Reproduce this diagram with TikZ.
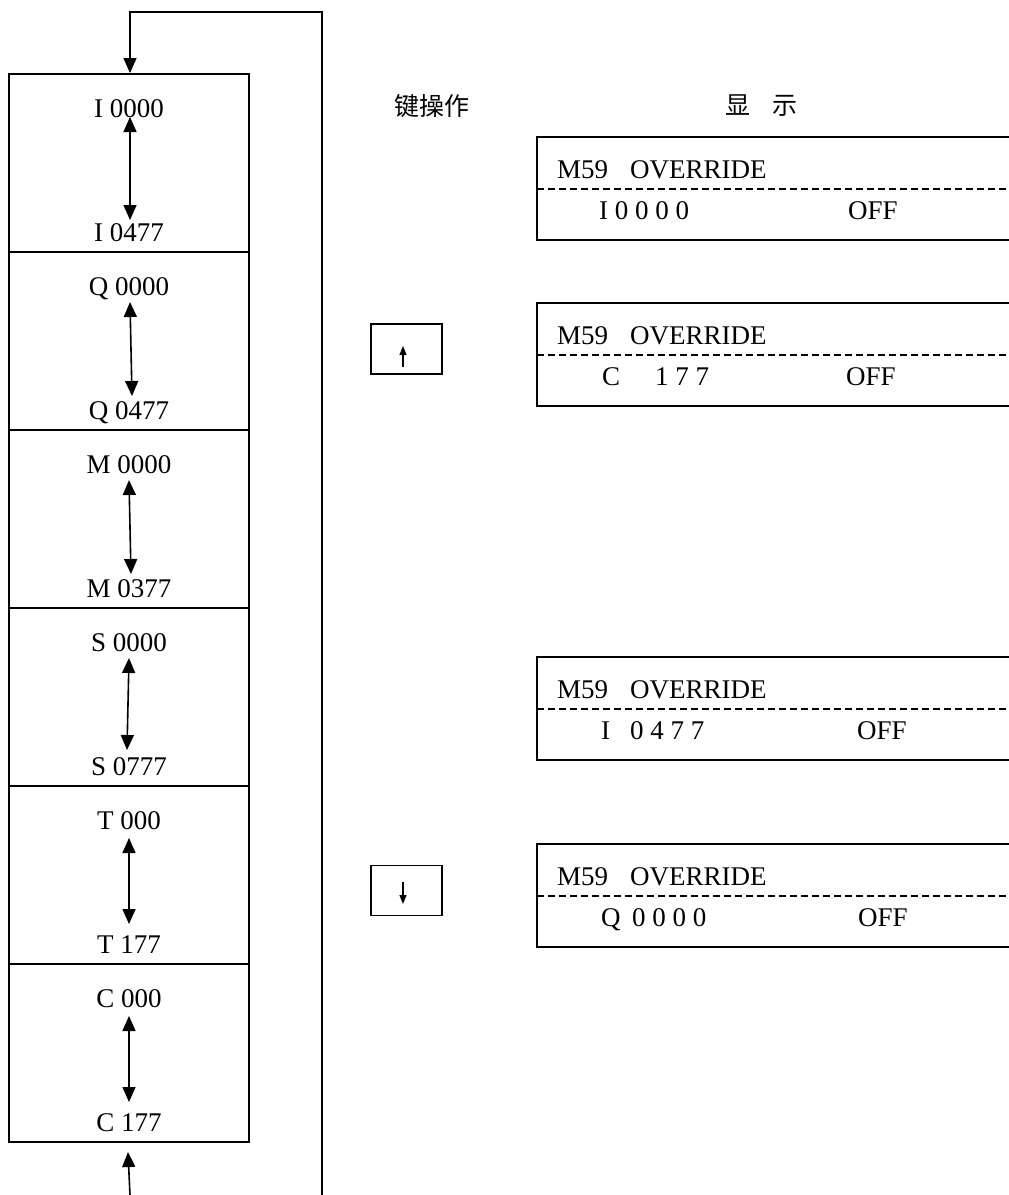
\documentclass[tikz,border=0pt]{standalone}
\usepackage{fontspec}
\setmainfont{Liberation Serif}
\newfontfamily\cjk{Noto Sans CJK SC}
\usetikzlibrary{arrows.meta}
\begin{document}
\begin{tikzpicture}[x=1pt,y=-1pt,
  lbox/.style={draw,line width=2pt,minimum width=240pt,minimum height=178pt,inner sep=0pt},
  kbox/.style={draw,line width=1.6pt,minimum width=71pt,minimum height=50pt,inner sep=0pt},
  txt/.style={inner sep=0pt,font=\fontsize{27}{32}\selectfont},
  cjktxt/.style={inner sep=0pt,font=\cjk\fontsize{25}{30}\selectfont},
  bigtip/.tip={Triangle[width=13pt,length=15pt]},
  smalltip/.tip={Triangle[width=7pt,length=9pt]},
  dbl/.style={line width=1.6pt,bigtip-bigtip},
  loopline/.style={line width=1.6pt},
  dline/.style={line width=1.3pt,dash pattern=on 7pt off 4pt},
  dframe/.style={line width=1.8pt},
  keyarrow/.style={line width=1.2pt,-smalltip}]
\useasboundingbox (0,0) rectangle (1009,1195);

% left column boxes
\foreach \i/\t/\top/\bot in {1/74/I 0000/I 0477, 2/252/Q 0000/Q 0477, 3/430/M 0000/M 0377,
                              4/608/S 0000/S 0777, 5/786/T 000/T 177, 6/964/C 000/C 177} {
  \node[lbox] (b\i) at (129,\t+89) {};
  \node[txt,anchor=base] (lt\i) at (129,\t+43) {\top};
  \node[txt,anchor=base] (lb\i) at (129,\t+167) {\bot};
}
% double arrows inside boxes
\coordinate (a1t) at (130,117); \coordinate (a1b) at (130,220);
\coordinate (a2t) at (130,302); \coordinate (a2b) at (132,396);
\coordinate (a3t) at (129,480); \coordinate (a3b) at (131,574);
\coordinate (a4t) at (129,658); \coordinate (a4b) at (127,750);
\coordinate (a5t) at (129,838); \coordinate (a5b) at (129,924);
\coordinate (a6t) at (129,1016); \coordinate (a6b) at (129,1102);
\foreach \i in {1,...,6} { \draw[dbl] (a\i t) -- (a\i b); }

% loop connector
\coordinate (rb) at (322,1195);
\coordinate (rt) at (322,12);
\coordinate (lt) at (130,12);
\draw[loopline,-bigtip] (rb) -- (rt) -- (lt) -- (lt |- b1.north);
\coordinate (bb) at (130,1195);
\coordinate (bt) at (128,1152);
\draw[loopline,-bigtip] (bb) -- (bt);

% headers
\node[cjktxt] (h1) at (432,106) {键操作};
\node[cjktxt] (h2) at (761,106) {显\hspace{22pt}示};

% key boxes
\node[kbox] (kup) at (406.5,349) {};
\node[kbox] (kdn) at (406.5,890.5) {};
\coordinate (ku1) at (403,367); \coordinate (ku2) at (403,346);
\coordinate (kd1) at (403,882); \coordinate (kd2) at (403,904);
\draw[keyarrow] (ku1) -- (ku2);
\draw[keyarrow] (kd1) -- (kd2);

% display boxes
\foreach \n/\t in {1/137,2/303,3/657,4/844} {
  \draw[dframe] (1009,\t) -- (537,\t) -- (537,\t+103) -- (1009,\t+103);
  \draw[dline] (537,\t+52) -- (1009,\t+52);
  \node[txt,anchor=base west] (m\n) at (557,\t+41) {M59};
  \node[txt,anchor=base west] (o\n) at (630,\t+41) {OVERRIDE};
}
\node[txt,anchor=base west] (s1) at (599,219) {I 0 0 0 0};
\node[txt,anchor=base west] (f1) at (848,219) {OFF};
\node[txt,anchor=base west] (s2a) at (602,385) {C};
\node[txt,anchor=base west] (s2b) at (655,385) {1 7 7};
\node[txt,anchor=base west] (f2) at (846,385) {OFF};
\node[txt,anchor=base west] (s3a) at (601,739) {I};
\node[txt,anchor=base west] (s3b) at (630,739) {0 4 7 7};
\node[txt,anchor=base west] (f3) at (857,739) {OFF};
\node[txt,anchor=base west] (s4a) at (601,926) {Q};
\node[txt,anchor=base west] (s4b) at (632,926) {0 0 0 0};
\node[txt,anchor=base west] (f4) at (858,926) {OFF};
\end{tikzpicture}
\end{document}
